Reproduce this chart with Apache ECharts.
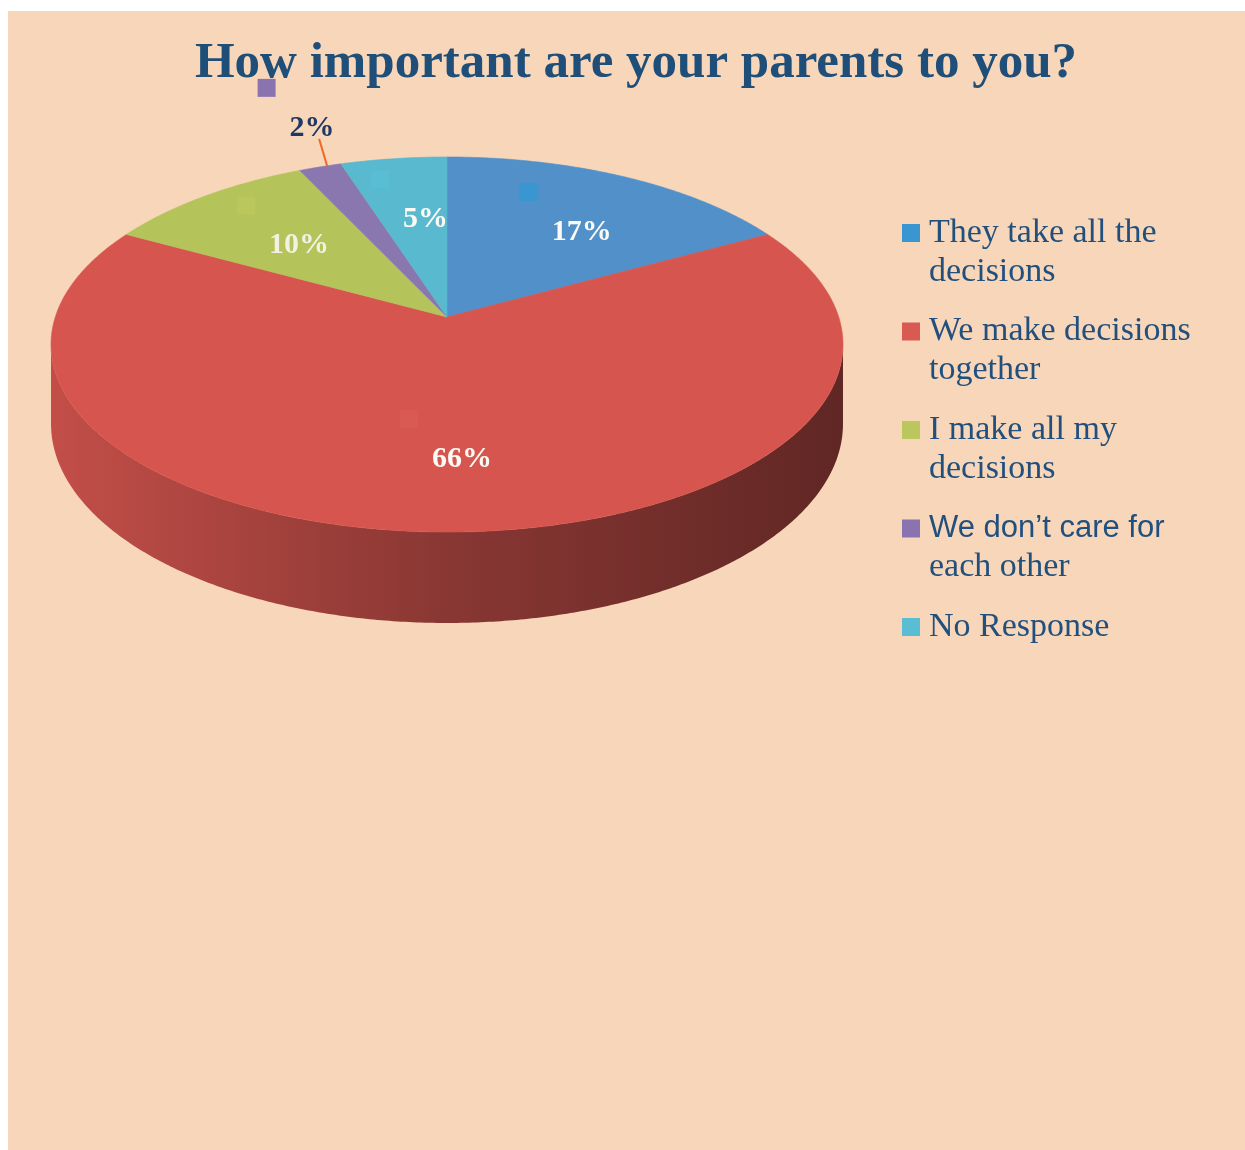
<!DOCTYPE html>
<html><head><meta charset="utf-8">
<script src="https://cdn.jsdelivr.net/npm/echarts@6/dist/echarts.min.js"></script>
<style>html,body{margin:0;padding:0;background:#fff}#c{width:1245px;height:1150px}</style>
</head><body><div id="c"></div>
<script>
// ---- data ----
const categories = ['They take all the decisions', 'We make decisions together', 'I make all my decisions', 'We don’t care for each other', 'No Response'];
const legendLines = [['They take all the', 'decisions'], ['We make decisions', 'together'], ['I make all my', 'decisions'], ['We don’t care for', 'each other'], ['No Response']];
const shares = [17, 66, 10, 2, 5];
const percentLabels = ['17%', '66%', '10%', '2%', '5%'];

// ---- styles ----
const sliceColors = ['#5190C9', '#D6564F', '#B4C45A', '#8B77AF', '#58B9CF'];
const keyColors = ['#3A96D0', '#D95A52', '#B9C75C', '#8A74B0', '#59BED3'];
const labelColors = ['#FBFAF4', '#FBFAF4', '#F2F1E2', '#1F3864', '#FBFAF4'];
const titleColor = '#1F4E79';
const legendColor = '#22507E';
const bgColor = '#F8D6B9';

// pie geometry (perspective-projected disc)
const G = { cx: 447, cy: 317, A: 391.7, B: 183.5, k: 0.1467, D: 77.6 };
function proj(a, f) {
  const u = f * Math.sin(a), v = -f * Math.cos(a);
  const w = 1 - G.k * v;
  return [G.cx + G.A * u / w, G.cy + G.B * v / w, w];
}
function shade(hex, f) {
  const c = echarts.color.parse(hex);
  return 'rgb(' + Math.round(c[0] * f) + ',' + Math.round(c[1] * f) + ',' + Math.round(c[2] * f) + ')';
}
const mctx = document.createElement('canvas').getContext('2d');
function textWidth(t, font) { mctx.font = font; return mctx.measureText(t).width; }

const total = shares.reduce((s, v) => s + v, 0);
const starts = []; { let acc = 0; shares.forEach(v => { starts.push(acc); acc += v; }); }
const halfW = G.A / Math.sqrt(1 - G.k * G.k);
const labelFont = 'bold 30px "Liberation Serif"';

function renderSlice(params, api) {
  const i = params.dataIndex;
  const v = api.value(0);
  const TAU = Math.PI * 2;
  const a0 = starts[i] / total * TAU, a1 = (starts[i] + v) / total * TAU;
  const children = [];
  const pts = [[G.cx, G.cy]];
  const n = Math.max(2, Math.ceil((a1 - a0) / (Math.PI / 360)));
  for (let j = 0; j <= n; j++) { const p = proj(a0 + (a1 - a0) * j / n, 1); pts.push([p[0], p[1]]); }
  children.push({ type: 'polygon', shape: { points: pts }, style: { fill: sliceColors[i], stroke: sliceColors[i], lineWidth: 0.6 }, z2: 2 });
  const vis = Math.acos(-G.k);
  const s0 = Math.max(a0, vis), s1 = Math.min(a1, TAU - vis);
  if (s1 > s0) {
    const top = [], bot = [];
    const m = Math.max(2, Math.ceil((s1 - s0) / (Math.PI / 360)));
    for (let j = 0; j <= m; j++) {
      const p = proj(s0 + (s1 - s0) * j / m, 1);
      top.push([p[0], p[1]]); bot.push([p[0], p[1] + G.D / p[2]]);
    }
    const grad = { type: 'linear', x: G.cx - halfW, y: 0, x2: G.cx + halfW, y2: 0, global: true,
      colorStops: [{ offset: 0, color: shade(sliceColors[i], 0.91) }, { offset: 0.5, color: shade(sliceColors[i], 0.64) }, { offset: 1, color: shade(sliceColors[i], 0.45) }] };
    children.push({ type: 'polygon', shape: { points: top.concat(bot.reverse()) }, style: { fill: grad }, z2: 1 });
  }
  // label
  const mid = (a0 + a1) / 2;
  let tx, ty;
  if (v / total < 0.03) {
    const e = proj(mid, 1);
    tx = e[0] - 8; ty = e[1] - 39;
    children.push({ type: 'line', shape: { x1: e[0] + 7, y1: e[1] - 1, x2: tx + 7, y2: ty + 11 }, style: { stroke: '#F06A24', lineWidth: 2 }, z2: 9 });
  } else {
    const p = proj(mid, 0.65);
    tx = p[0] + 15; ty = p[1] + 10;
  }
  const tw = textWidth(percentLabels[i], labelFont);
  children.push({ type: 'rect', shape: { x: tx - tw / 2 - 32, y: ty - 49, width: 18, height: 18 }, style: { fill: keyColors[i] }, z2: 10 });
  children.push({ type: 'text', x: tx, y: ty, style: { text: percentLabels[i], fill: labelColors[i], font: labelFont, align: 'center', verticalAlign: 'middle' }, z2: 11 });
  return { type: 'group', children };
}

const serifRich = { fontFamily: '"Liberation Serif"', fontSize: 34, lineHeight: 39, color: legendColor, padding: [0, 0, 0, 4] };
const chart = echarts.init(document.getElementById('c'));
chart.setOption({
  animation: false,
  backgroundColor: '#ffffff',
  graphic: [{ type: 'rect', z: -10, silent: true, shape: { x: 8, y: 11, width: 1237, height: 1139 }, style: { fill: bgColor } }],
  title: {
    text: 'How important are your parents to you?', left: 631, top: 33, textAlign: 'center',
    textStyle: { fontFamily: '"Liberation Serif"', fontWeight: 'bold', fontSize: 51, color: titleColor }
  },
  legend: {
    orient: 'vertical', left: 902, top: 177, padding: 0, itemWidth: 18, itemHeight: 18, itemGap: -13.5,
    icon: 'rect', selectedMode: false, data: categories,
    formatter: function (name) {
      const i = categories.indexOf(name);
      const L = legendLines[i];
      const first = (i === 3 ? '{s|' : '{r|') + L[0] + '}';
      const second = '{r|' + (L[1] || ' ') + '}';
      return '{b| }\n' + first + '\n' + second;
    },
    textStyle: {
      rich: {
        b: serifRich, r: serifRich,
        s: { fontFamily: '"Liberation Sans", Arial, sans-serif', fontSize: 31, lineHeight: 39, color: legendColor, padding: [0, 0, 0, 4] }
      }
    }
  },
  series: [
    { type: 'pie', name: 'legend', radius: [0, 0], center: [-300, -300], silent: true, label: { show: false }, labelLine: { show: false },
      data: categories.map((c, i) => ({ name: c, value: shares[i], itemStyle: { color: keyColors[i] } })) },
    { type: 'custom', coordinateSystem: 'none', silent: true, renderItem: renderSlice,
      data: categories.map((c, i) => ({ name: c, value: shares[i] })) }
  ]
});
</script></body></html>
